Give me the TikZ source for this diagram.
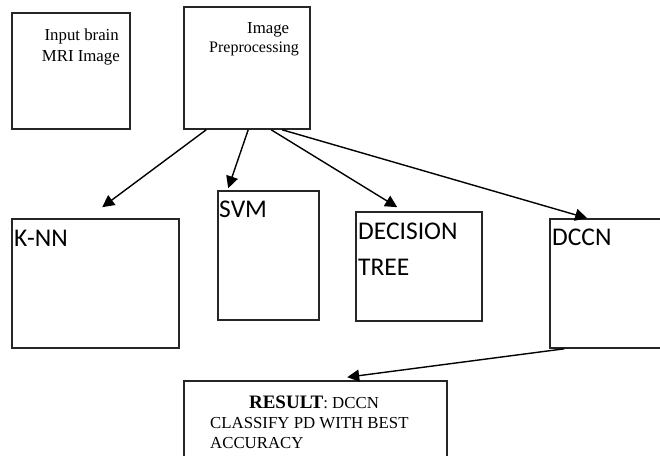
\documentclass[tikz,border=0pt]{standalone}
\usepackage{fontspec}
\setmainfont{Liberation Serif}
\newfontfamily\labelsans{Carlito}
\usetikzlibrary{arrows.meta}
\begin{document}
\begin{tikzpicture}[x=1pt,y=-1pt,
  box/.style={draw=black!85, line width=1.6pt, rectangle, inner sep=0pt},
  serif/.style={inner sep=0pt, font=\fontsize{16.8}{19}\selectfont},
  sanslabel/.style={inner sep=0pt, anchor=base west, font=\labelsans\fontsize{25.5}{28}\selectfont},
  arr/.style={line width=1.4pt, -{Triangle[length=12pt,width=12pt]}}]
\useasboundingbox (0,0) rectangle (660,455);
\clip (0,0) rectangle (660,455);

% boxes
\node[box, minimum width=118pt, minimum height=116pt] (inp) at (71,71) {};
\node[box, minimum width=126pt, minimum height=122pt] (pre) at (247,68) {};
\node[box, minimum width=167pt, minimum height=129pt] (knn) at (95.5,283.5) {};
\node[box, minimum width=101pt, minimum height=129pt] (svm) at (268.5,255.5) {};
\node[box, minimum width=126pt, minimum height=109pt] (dt) at (419,266.5) {};
\node[box, minimum width=140pt, minimum height=129pt] (dccn) at (620,283.5) {};
\node[box, minimum width=263pt, minimum height=109pt] (res) at (315.5,435.5) {};

% serif captions
\node[serif, anchor=base east] (inpA) at (119,40) {Input brain};
\node[serif, anchor=base east] (inpB) at (120,61) {MRI Image};
\node[serif, anchor=base west] (preA) at (247,33) {Image};
\node[serif, anchor=base west, font=\fontsize{16}{19}\selectfont] (preB) at (209,52) {Preprocessing};

% classifier labels
\node[sanslabel] (knnT) at (14,246) {K-NN};
\node[sanslabel] (svmT) at (219,217) {SVM};
\node[sanslabel] (dtA) at (358,239) {DECISION};
\node[sanslabel] (dtB) at (358,275) {TREE};
\node[sanslabel] (dccnT) at (552,245) {DCCN};

% result text
\node[serif, anchor=base] (resA) at (314,408) {{\fontsize{19}{20}\selectfont\bfseries RESULT}: DCCN};
\node[serif, anchor=base west] (resB) at (210,428) {CLASSIFY PD WITH BEST};
\node[serif, anchor=base west] (resC) at (210,448) {ACCURACY};

% connectors
\draw[arr] ([xshift=23pt]pre.south west) -- ([xshift=91pt,yshift=11pt]knn.north west);
\draw[arr] ([xshift=65pt]pre.south west) -- ([xshift=11pt,yshift=2pt]svm.north west);
\draw[arr] ([xshift=88pt]pre.south west) -- ([xshift=42pt,yshift=4pt]dt.north west);
\draw[arr] ([xshift=99pt]pre.south west) -- ([xshift=38pt]dccn.north west);
\draw[arr] ([xshift=15pt]dccn.south west) -- ([xshift=164pt,yshift=3pt]res.north west);
\end{tikzpicture}
\end{document}
